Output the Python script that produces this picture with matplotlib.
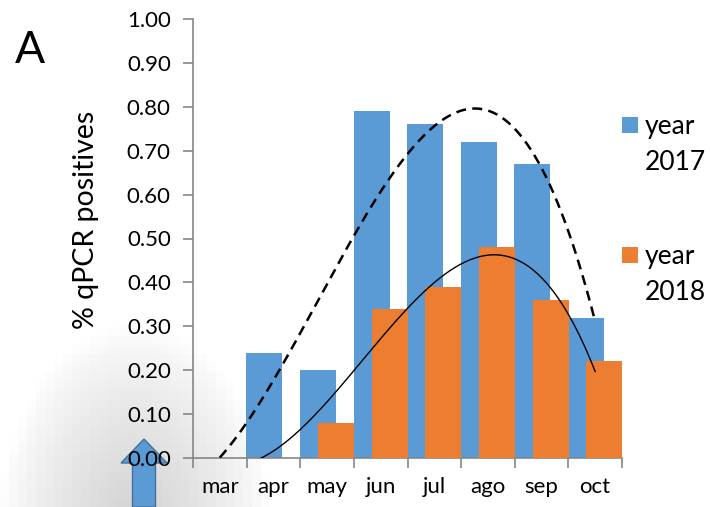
import numpy as np
import matplotlib
matplotlib.use("Agg")
from matplotlib import pyplot as plt
from matplotlib.patches import FancyArrow, Rectangle

# data
months = ["mar", "apr", "may", "jun", "jul", "ago", "sep", "oct"]
year_2017 = [0.00, 0.24, 0.20, 0.79, 0.76, 0.72, 0.67, 0.32]
year_2018 = [0.00, 0.00, 0.08, 0.34, 0.39, 0.48, 0.36, 0.22]
y_ticks = [0.0, 0.1, 0.2, 0.3, 0.4, 0.5, 0.6, 0.7, 0.8, 0.9, 1.0]
series_names = ["2017", "2018"]

blue = "#5B9BD5"
orange = "#ED7D31"
grey = "#868686"
plt.rcParams["font.family"] = ["Lato", "DejaVu Sans"]

W, H = 710, 507
fig = plt.figure(figsize=(W / 100, H / 100), dpi=100)

# soft blocky grey shadow in the lower-left corner (pixel coords, y down)
bg = fig.add_axes([0, 0, 1, 1], zorder=-5)
bg.axis("off")
cell = 9
nx, ny = 32, 26
top = H - ny * cell
cx = (np.arange(nx) + 0.5) * cell
cy = top + (np.arange(ny) + 0.5) * cell
xx, yy = np.meshgrid(cx, cy)
d = np.hypot((xx - 135) / 135, (yy - 525) / 200)
img = np.ones((ny, nx, 4))
img[..., :3] = 0.80
img[..., 3] = np.clip(1.0 - d, 0, 1) ** 0.8 * 0.9
bg.imshow(img, extent=[0, nx * cell, H, top], interpolation="nearest",
          aspect="auto", origin="upper")
bg.set_xlim(0, W)
bg.set_ylim(H, 0)

ax = fig.add_axes([193 / W, 1 - 458 / H, (622 - 193) / W, (458 - 19) / H])
ax.patch.set_alpha(0)

x = np.arange(len(months))
ax.bar(x - 0.17, year_2017, width=0.67, color=blue, zorder=2)
ax.bar(x + 0.17, year_2018, width=0.67, color=orange, zorder=3)

# polynomial trend lines (x = 1..n like a spreadsheet trendline)
xs = np.linspace(1, len(months), 300)
p17 = np.polyfit(np.arange(1, 9), year_2017, 3)
p18 = np.polyfit(np.arange(1, 9), year_2018, 3)
ax.plot(xs - 1, np.polyval(p17, xs), color="black", ls=(0, (4, 2.5)), lw=1.8, zorder=4)
ax.plot(xs - 1, np.polyval(p18, xs), color="black", lw=1.0, zorder=4)

ax.set_xlim(-0.5, len(months) - 0.5)
ax.set_ylim(0, 1.0)
ax.set_yticks(y_ticks)
ax.set_yticklabels(["%.2f" % v for v in y_ticks], fontsize=16)
ax.set_xticks(np.arange(-0.5, len(months), 1.0))
ax.set_xticklabels([])
ax.set_xticks(x, minor=True)
ax.set_xticklabels(months, minor=True, fontsize=16)
ax.tick_params(axis="x", which="minor", length=0, pad=14)
ax.tick_params(axis="x", which="major", length=7, color=grey, width=1.2)
ax.tick_params(axis="y", length=7, color=grey, width=1.2, pad=9)
for s in ["top", "right"]:
    ax.spines[s].set_visible(False)
for s in ["left", "bottom"]:
    ax.spines[s].set_color(grey)
    ax.spines[s].set_linewidth(1.2)

ax.set_ylabel("% qPCR positives", fontsize=20.5)
ax.yaxis.set_label_coords(-0.218, 0.542)

# legend drawn as squares + two-line labels
for name, col, ytop in zip(series_names, [blue, orange], [117, 247]):
    fig.add_artist(Rectangle((622 / W, 1 - (ytop + 16) / H), 16 / W, 16 / H,
                             transform=fig.transFigure, facecolor=col, edgecolor="none"))
    fig.text(645 / W, 1 - (ytop + 17) / H, "year", fontsize=19, va="baseline")
    fig.text(645 / W, 1 - (ytop + 53) / H, name, fontsize=19, va="baseline")

fig.text(15 / W, 1 - 63 / H, "A", fontsize=32, va="baseline")

# blue arrow at the bottom, behind the tick labels
arrow = FancyArrow(144 / W, 0.0, 0.0, 68 / H, width=23 / W, head_width=46 / W,
                   head_length=24 / H, length_includes_head=True,
                   transform=fig.transFigure, facecolor=blue,
                   edgecolor="#41719C", lw=1, zorder=-1)
fig.add_artist(arrow)

fig.savefig("out.png", dpi=100)
